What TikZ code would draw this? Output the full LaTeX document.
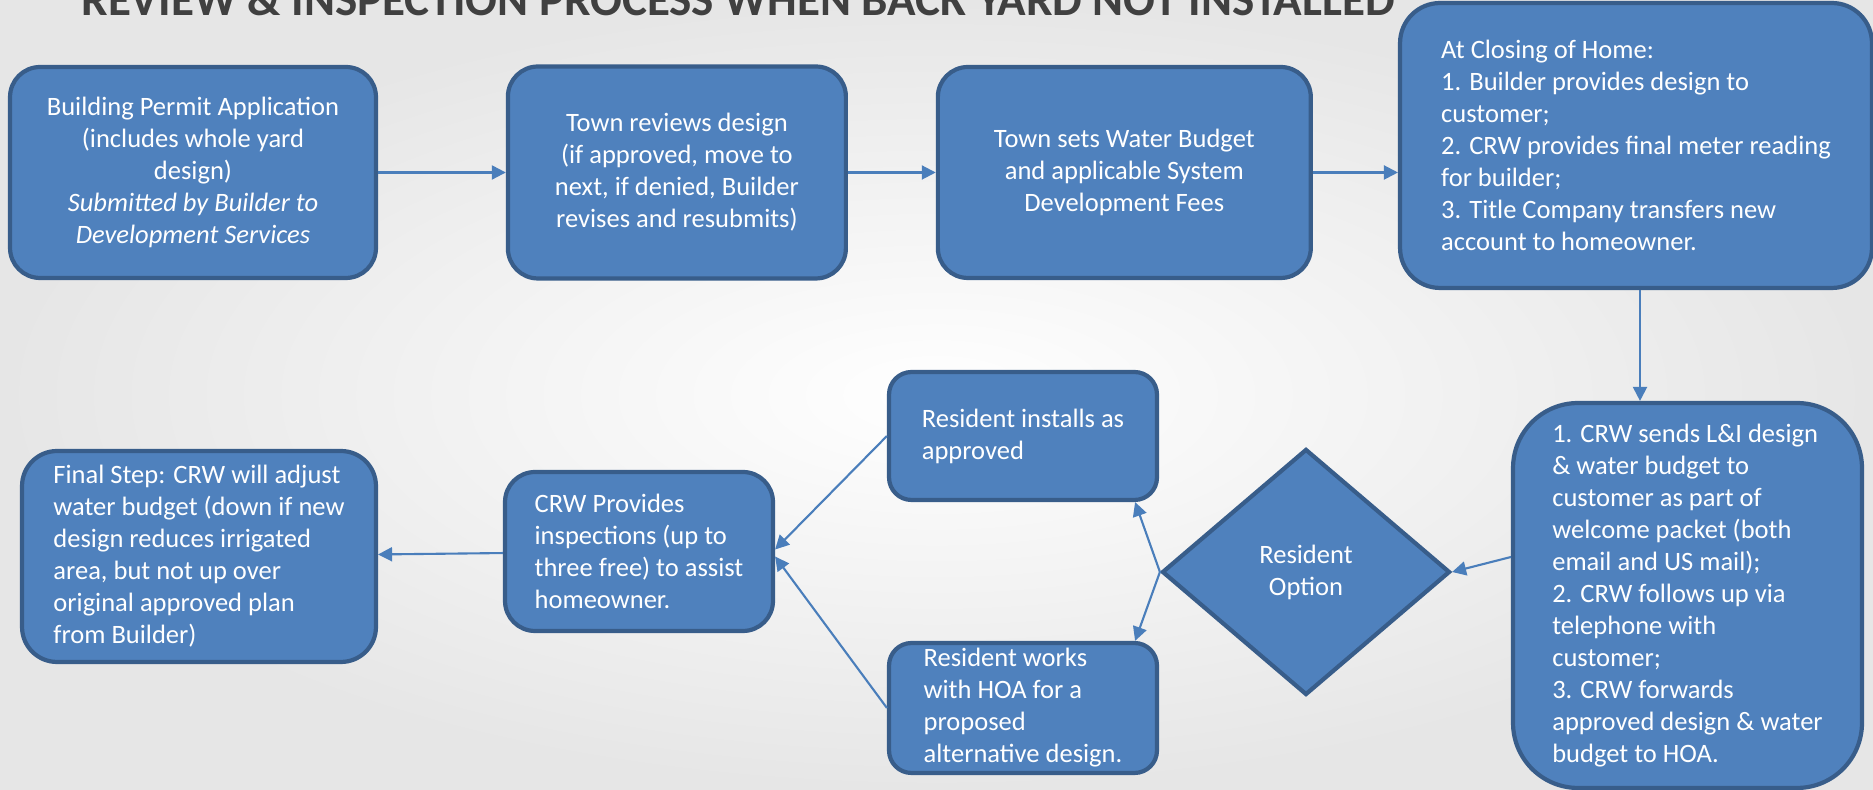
\documentclass[tikz,border=0pt]{standalone}
\usepackage{fontspec}
\setmainfont{Carlito}
\usepackage{xcolor}
\usepackage{tikz}
\usetikzlibrary{shapes.geometric,arrows.meta}
\definecolor{boxblue}{RGB}{79,129,189}
\definecolor{boxedge}{RGB}{56,93,138}
\definecolor{arrowblue}{RGB}{74,126,187}
\definecolor{titlegray}{RGB}{64,64,64}
\definecolor{bggray}{RGB}{230,230,230}

\begin{document}
\begin{tikzpicture}[x=0.02cm, y=0.02cm, >={Triangle[length=0.28cm,width=0.28cm]},
        flowbox/.style={draw=boxedge, line width=2.4pt, fill=boxblue, rectangle, rounded corners=0.6cm, text=white, font=\fontsize{15.1}{18.2}\selectfont, inner sep=0pt},
        flowline/.style={->, line width=1.2pt, arrowblue}]
            \useasboundingbox (0,0) rectangle (1873,790);
            \shade[inner color=white, outer color=bggray] (0,0) rectangle (1873,790);
            \node [anchor=base, text=titlegray, font=\bfseries\fontsize{26.8}{32}\selectfont] (T) at (738,774) {REVIEW \& INSPECTION PROCESS WHEN BACK YARD NOT INSTALLED};

            % top row
            \node [flowbox, align=center, minimum width=7.32cm, minimum height=4.22cm] (A) at (193,617.5) {Building Permit Application\\(includes whole yard\\design)\\\textit{Submitted by Builder to}\\\textit{Development Services}};
            \node [flowbox, align=center, minimum width=6.76cm, minimum height=4.24cm, right of=A, node distance=9.68cm] (B) {Town reviews design\\(if approved, move to\\next, if denied, Builder\\revises and resubmits)};
            \node [flowbox, align=center, minimum width=7.46cm, minimum height=4.22cm, right of=B, node distance=8.95cm] (C) {Town sets Water Budget\\and applicable System\\Development Fees};
            \node [flowbox, align=left, rounded corners=0.8cm, minimum width=9.44cm, minimum height=5.7cm] (D) at (1636,644.5) {At Closing of Home:\\1. Builder provides design to\\customer;\\2. CRW provides final meter reading\\for builder;\\3. Title Company transfers new\\account to homeowner.};

            % bottom row
            \node [flowbox, align=left, rounded corners=1.3cm, minimum width=6.98cm, minimum height=7.7cm] (E) at (1687.5,194.5) {1. CRW sends L\&I design\\\& water budget to\\customer as part of\\welcome packet (both\\email and US mail);\\2. CRW follows up via\\telephone with\\customer;\\3. CRW forwards\\approved design \& water\\budget to HOA.};
            \node [flowbox, diamond, sharp corners, align=center, minimum width=5.76cm, minimum height=4.92cm] (F) at (1306,218) {Resident\\Option};
            \node [flowbox, align=left, rounded corners=0.45cm, minimum width=5.36cm, minimum height=2.56cm] (G) at (1023,354) {Resident installs as\\approved};
            \node [flowbox, align=left, rounded corners=0.45cm, minimum width=5.36cm, minimum height=2.6cm] (H) at (1023,82) {Resident works\\with HOA for a\\proposed\\alternative design.};
            \node [flowbox, align=left, minimum width=5.36cm, minimum height=3.18cm] (I) at (639,238.5) {CRW Provides\\inspections (up to\\three free) to assist\\homeowner.};
            \node [flowbox, align=left, rounded corners=0.7cm, minimum width=7.08cm, minimum height=4.22cm] (J) at (199,233.5) {Final Step: CRW will adjust\\water budget (down if new\\design reduces irrigated\\area, but not up over\\original approved plan\\from Builder)};

            \draw [flowline] (A) -- (B);
            \draw [flowline] (B) -- (C);
            \draw [flowline] (C.east) -- (C.east -| D.west);
            \draw [flowline] ([xshift=0.08cm]D.south) -- ([xshift=0.08cm]D.south |- E.north);
            \draw [flowline] ([yshift=0.77cm]E.west) -- (F.east);
            \draw [flowline] (F.west) -- ([xshift=-0.48cm]G.south east);
            \draw [flowline] (F.west) -- ([xshift=-0.48cm]H.north east);
            \draw [flowline] (G.west) -- ([yshift=0.04cm]I.east);
            \draw [flowline] (H.west) -- ([yshift=-0.1cm]I.east);
            \draw [flowline] (I) -- (J);
        \end{tikzpicture}
\end{document}
